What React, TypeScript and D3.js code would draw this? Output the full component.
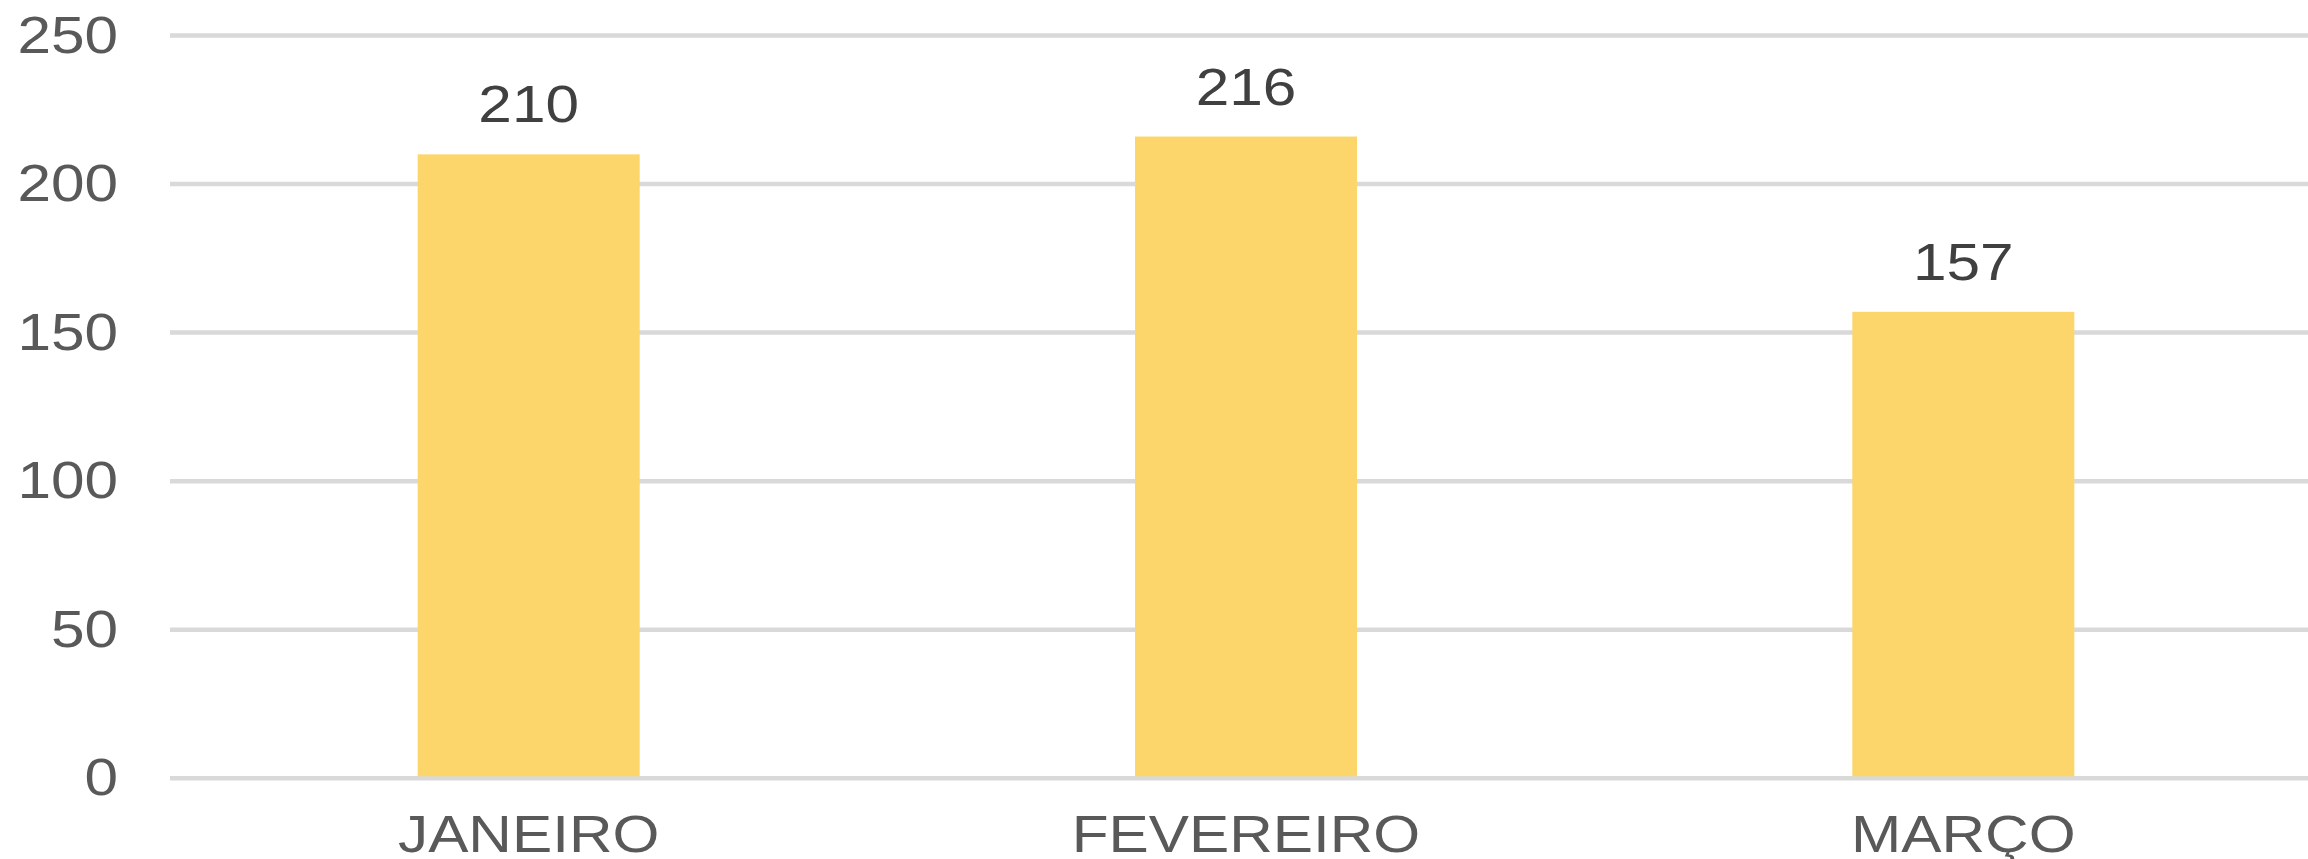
import React from "react";
import * as d3 from "d3";

const categories: string[] = ["JANEIRO", "FEVEREIRO", "MARÇO"];
const values: number[] = [210, 216, 157];
const yTicks: number[] = [0, 50, 100, 150, 200, 250];

const W = 2308;
const H = 859;
const FONT = "'Liberation Sans', Arial, sans-serif";
const SX = 1.16;

export default function App() {
  const x = d3
    .scaleBand<string>()
    .domain(categories)
    .range([170, 2322])
    .paddingInner(0.6905)
    .paddingOuter(0.34525);
  const y = d3.scaleLinear().domain([0, 250]).range([778.3, 35.5]);

  return (
    <svg
      width={W}
      height={H}
      style={{ position: "absolute", left: 0, top: 0, background: "#fff" }}
    >
      <rect x={0} y={0} width={W} height={H} fill="#ffffff" />
      {yTicks.map((t) => (
        <g key={t}>
          <line x1={170} x2={W} y1={y(t)} y2={y(t)} stroke="#d9d9d9" strokeWidth={4.5} />
          <text
            transform={`translate(118,${y(t) + 17}) scale(${SX},1)`}
            textAnchor="end"
            fontFamily={FONT}
            fontSize={52}
            fill="#595959"
          >
            {t}
          </text>
        </g>
      ))}
      {categories.map((c, i) => {
        const bx = x(c)!;
        const bw = x.bandwidth();
        const cx = bx + bw / 2;
        return (
          <g key={c}>
            <rect x={bx} y={y(values[i])} width={bw} height={y(0) - y(values[i]) - 2} fill="#fcd66a" />
            <text
              transform={`translate(${cx},${y(values[i]) - 32}) scale(${SX},1)`}
              textAnchor="middle"
              fontFamily={FONT}
              fontSize={52}
              fill="#404040"
            >
              {values[i]}
            </text>
            <text
              transform={`translate(${cx},852) scale(${SX},1)`}
              textAnchor="middle"
              fontFamily={FONT}
              fontSize={52}
              fill="#595959"
            >
              {c}
            </text>
          </g>
        );
      })}
    </svg>
  );
}
